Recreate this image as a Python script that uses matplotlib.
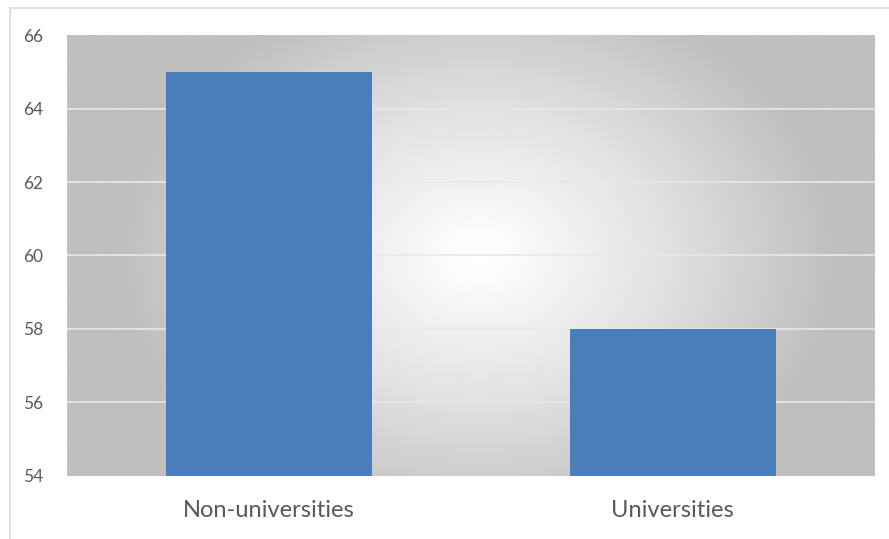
import matplotlib
matplotlib.use('Agg')
import matplotlib.pyplot as plt
import numpy as np
from matplotlib.colors import LinearSegmentedColormap
from matplotlib.patches import Rectangle

# chart data
categories = ['Non-universities', 'Universities']
values = [65, 58]
y_ticks = [54, 56, 58, 60, 62, 64, 66]

plt.rcParams['font.family'] = ['Lato', 'DejaVu Sans']

fig = plt.figure(figsize=(8.89, 5.39), dpi=100)
ax = fig.add_axes([0.0754, 0.117, 0.9086, 0.818])

# outer chart frame (cropped at right/bottom like the reference)
fig.patches.append(Rectangle((10 / 889, -0.05), 2, 1 - 8 / 539 + 0.05,
                             transform=fig.transFigure, fill=False,
                             edgecolor='#d9d9d9', lw=1.2))

# radial gradient background for plot area
nx, ny = 400, 220
gx, gy = np.meshgrid(np.linspace(0, 1, nx), np.linspace(0, 1, ny))
r = np.sqrt(((gx - 0.51) / 0.52) ** 2 + ((gy - 0.5) / 0.75) ** 2)
t = np.clip((r - 0.03) / 0.82, 0, 1)
cmap = LinearSegmentedColormap.from_list('bg', ['#ffffff', '#e2e2e2', '#bfbfbf'])
ax.imshow(t, cmap=cmap, extent=[0, 1, 0, 1], transform=ax.transAxes,
          aspect='auto', origin='lower', zorder=0, vmin=0, vmax=1)

x = np.arange(len(categories))
ax.bar(x, values, width=0.51, color='#4a7ebb', zorder=3)

ax.set_xlim(-0.5, len(categories) - 0.5)
ax.set_ylim(y_ticks[0], y_ticks[-1])
ax.set_yticks(y_ticks)
ax.set_xticks(x)
ax.set_xticklabels(categories, fontsize=17, color='#595959')
ax.tick_params(axis='y', labelsize=12.5, labelcolor='#595959', length=0, pad=17)
ax.tick_params(axis='x', length=0, pad=17)

for yv in y_ticks[1:-1]:
    ax.axhline(yv, color='#e8e8e8', lw=1.2, zorder=1)

for s in ax.spines.values():
    s.set_visible(False)

plt.savefig('out.png', dpi=100)
plt.close()
